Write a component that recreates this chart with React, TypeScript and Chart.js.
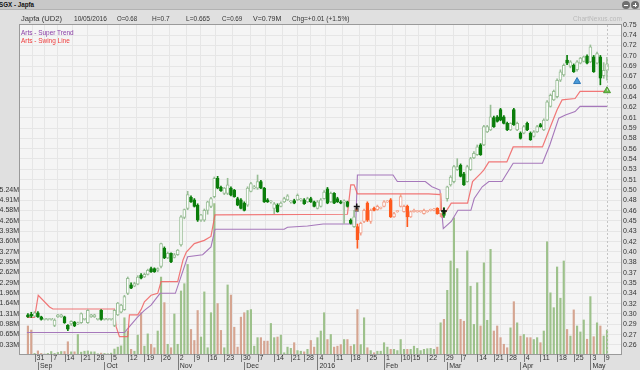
import React, { useEffect, useRef } from "react";
import { Chart, registerables } from "chart.js";
Chart.register(...registerables);

// ---- daily data (index 0 = 27 Aug 2015 ... index 174 = 10 May 2016) ----
const opens = [
  0.306,0.307,0.304,0.309,0.303,0.299,0.299,0.299,0.290,0.303,
  0.303,0.303,0.290,0.292,0.295,0.292,0.294,0.299,0.294,0.303,
  0.303,0.299,0.313,0.299,0.299,0.299,0.290,0.306,0.310,0.314,
  0.339,0.352,0.350,0.353,0.367,0.364,0.368,0.377,0.377,0.374,
  0.380,0.408,0.393,0.400,0.394,0.398,0.413,0.455,0.469,0.486,
  0.482,0.474,0.451,0.451,0.466,0.472,0.487,0.515,0.501,0.492,
  0.492,0.500,0.497,0.484,0.482,0.477,0.474,0.495,0.500,0.500,
  0.510,0.500,0.482,0.479,0.469,0.474,0.472,0.479,0.482,0.479,
  0.481,0.482,0.482,0.482,0.479,0.484,0.479,0.469,0.472,0.484,
  0.499,0.479,0.492,0.484,0.479,0.479,0.479,0.451,0.441,0.441,
  0.431,0.449,0.477,0.449,0.469,0.467,0.469,0.472,0.479,0.482,
  0.456,0.464,0.472,0.464,0.472,0.456,0.464,0.464,0.464,0.461,
  0.464,0.466,0.466,0.469,0.461,0.466,0.484,0.505,0.510,0.528,
  0.535,0.522,0.510,0.528,0.546,0.551,0.566,0.566,0.586,0.589,
  0.608,0.609,0.620,0.609,0.599,0.589,0.620,0.589,0.584,0.584,
  0.599,0.584,0.579,0.586,0.597,0.589,0.604,0.625,0.635,0.640,
  0.665,0.673,0.696,0.686,0.688,0.681,0.691,0.694,0.702,0.693,
  0.701,0.691,0.701,0.672,0.680
];
const highs = [
  0.308,0.310,0.311,0.311,0.304,0.300,0.300,0.300,0.300,0.307,
  0.307,0.304,0.291,0.297,0.296,0.295,0.309,0.300,0.314,0.307,
  0.307,0.300,0.314,0.300,0.300,0.300,0.314,0.325,0.322,0.336,
  0.364,0.355,0.356,0.366,0.369,0.370,0.376,0.379,0.378,0.378,
  0.416,0.410,0.402,0.401,0.400,0.406,0.458,0.468,0.495,0.488,
  0.484,0.476,0.460,0.468,0.480,0.486,0.517,0.518,0.503,0.501,
  0.515,0.502,0.498,0.486,0.484,0.479,0.502,0.509,0.504,0.520,
  0.512,0.501,0.484,0.481,0.478,0.476,0.479,0.486,0.490,0.481,
  0.483,0.491,0.484,0.484,0.486,0.486,0.480,0.481,0.484,0.496,
  0.501,0.494,0.493,0.486,0.481,0.482,0.480,0.453,0.466,0.445,
  0.448,0.468,0.479,0.468,0.471,0.474,0.471,0.481,0.481,0.484,
  0.463,0.466,0.492,0.474,0.474,0.465,0.468,0.466,0.466,0.468,
  0.466,0.468,0.469,0.470,0.492,0.470,0.503,0.519,0.535,0.545,
  0.537,0.524,0.535,0.547,0.556,0.566,0.568,0.596,0.596,0.627,
  0.610,0.611,0.622,0.611,0.601,0.600,0.622,0.601,0.586,0.596,
  0.601,0.586,0.588,0.596,0.599,0.606,0.634,0.644,0.650,0.667,
  0.681,0.690,0.703,0.695,0.690,0.695,0.700,0.702,0.704,0.719,
  0.703,0.708,0.703,0.692,0.700
];
const lows = [
  0.302,0.302,0.303,0.302,0.298,0.298,0.298,0.298,0.288,0.302,
  0.302,0.293,0.282,0.290,0.288,0.291,0.293,0.298,0.293,0.302,
  0.302,0.298,0.298,0.298,0.298,0.298,0.288,0.305,0.309,0.313,
  0.337,0.346,0.349,0.352,0.361,0.363,0.367,0.371,0.371,0.372,
  0.378,0.392,0.392,0.386,0.393,0.397,0.411,0.453,0.467,0.478,
  0.471,0.449,0.449,0.449,0.460,0.470,0.485,0.499,0.495,0.490,
  0.490,0.488,0.486,0.473,0.468,0.465,0.472,0.494,0.499,0.498,
  0.499,0.478,0.478,0.477,0.461,0.463,0.471,0.478,0.481,0.477,
  0.476,0.481,0.480,0.475,0.478,0.478,0.471,0.468,0.471,0.483,
  0.476,0.478,0.476,0.478,0.476,0.446,0.471,0.445,0.440,0.408,
  0.428,0.447,0.449,0.446,0.465,0.466,0.468,0.471,0.478,0.455,
  0.455,0.463,0.471,0.463,0.441,0.455,0.463,0.463,0.463,0.460,
  0.463,0.465,0.465,0.460,0.456,0.455,0.480,0.503,0.508,0.527,
  0.517,0.504,0.509,0.527,0.545,0.550,0.550,0.565,0.585,0.588,
  0.593,0.601,0.603,0.598,0.588,0.588,0.596,0.588,0.575,0.583,
  0.588,0.573,0.578,0.585,0.593,0.588,0.603,0.624,0.634,0.638,
  0.663,0.671,0.689,0.684,0.677,0.679,0.690,0.693,0.690,0.692,
  0.677,0.690,0.658,0.668,0.665
];
const closes = [
  0.303,0.304,0.309,0.303,0.299,0.299,0.299,0.299,0.298,0.306,
  0.306,0.294,0.284,0.296,0.289,0.294,0.308,0.299,0.313,0.306,
  0.306,0.299,0.299,0.299,0.299,0.299,0.313,0.324,0.321,0.334,
  0.362,0.347,0.354,0.364,0.362,0.368,0.374,0.372,0.372,0.377,
  0.415,0.393,0.400,0.387,0.398,0.405,0.456,0.467,0.490,0.479,
  0.472,0.451,0.459,0.466,0.479,0.484,0.515,0.500,0.496,0.500,
  0.505,0.489,0.487,0.474,0.469,0.466,0.500,0.507,0.502,0.510,
  0.500,0.479,0.479,0.479,0.476,0.464,0.477,0.484,0.488,0.479,
  0.477,0.489,0.482,0.476,0.484,0.479,0.472,0.479,0.482,0.494,
  0.477,0.492,0.477,0.479,0.477,0.479,0.472,0.446,0.456,0.421,
  0.446,0.466,0.451,0.466,0.466,0.472,0.469,0.479,0.479,0.456,
  0.461,0.464,0.487,0.472,0.456,0.464,0.466,0.464,0.464,0.466,
  0.464,0.466,0.468,0.461,0.466,0.458,0.502,0.517,0.533,0.533,
  0.518,0.505,0.533,0.545,0.553,0.563,0.551,0.594,0.594,0.609,
  0.594,0.602,0.604,0.599,0.589,0.599,0.597,0.599,0.576,0.594,
  0.589,0.574,0.586,0.594,0.594,0.604,0.632,0.642,0.648,0.665,
  0.678,0.688,0.691,0.693,0.678,0.693,0.699,0.701,0.691,0.716,
  0.678,0.706,0.668,0.680,0.690
];
const volumes = [
  0.92,0.79,0.05,0.13,0.05,0.03,0.05,0.11,0.05,0.08,
  0.11,0.11,0.42,0.10,0.10,0.65,0.09,0.12,0.13,0.10,
  0.10,0.04,0.06,0.05,0.04,0.06,0.19,0.25,0.29,1.18,
  0.76,0.18,0.12,0.63,1.34,0.28,0.67,0.34,0.23,0.76,
  2.47,1.66,0.34,0.23,1.30,0.34,2.03,2.26,2.87,0.81,
  0.46,1.41,0.57,2.00,0.23,1.34,4.80,1.63,0.78,0.23,
  2.22,1.90,0.88,0.25,1.20,1.34,1.41,1.44,0.28,0.55,
  0.55,0.44,0.44,1.00,0.55,0.57,0.63,0.07,0.25,0.21,
  0.39,0.14,0.12,0.10,0.18,0.46,0.25,0.55,0.76,1.34,
  0.49,0.65,0.25,0.28,0.33,0.49,0.49,0.28,0.33,1.44,
  0.33,1.18,0.23,0.14,0.07,0.12,0.12,0.39,0.25,0.18,
  0.18,0.14,0.49,0.18,0.18,0.18,0.28,0.21,0.14,0.18,
  0.20,0.21,0.18,0.25,1.02,1.13,2.05,2.98,4.35,2.74,
  1.13,1.07,3.30,2.18,0.97,2.29,0.92,2.92,1.10,3.35,
  0.76,0.92,0.55,0.34,0.23,0.86,1.69,1.02,0.60,0.65,
  0.55,0.55,0.49,0.55,0.39,0.76,3.59,1.97,1.50,2.79,
  1.80,2.98,0.81,0.60,1.43,0.92,0.73,1.11,0.50,1.85,
  0.58,1.02,0.92,0.60,0.79
];
// bearish Super Trend regime (day indices)
const bearRange = [99, 124];

// Super Trend & Swing Line, read at their turning points (day index, price)
const superX = [-0.3,29,30.5,33,35,37,39.7,44.3,48,52.5,55,56.2,77,78,84,88.7,98.5,99,109.7,111,119.4,121.4,123.8,124.8,127.2,129.2,133.1,134.1,136.5,138.5,142.4,145.8,154.6,156.8,159.5,161.5,164.4,165.9,174];
const superY = [0.279,0.279,0.288,0.303,0.313,0.321,0.339,0.339,0.395,0.398,0.410,0.437,0.437,0.440,0.442,0.445,0.445,0.520,0.520,0.510,0.510,0.502,0.497,0.438,0.449,0.466,0.466,0.484,0.502,0.510,0.510,0.538,0.538,0.566,0.607,0.612,0.617,0.625,0.625];
const swingX = [-0.3,2,3.1,6.5,7.5,26,26.5,27.5,30,30.5,33,34,35,37,39,40,45,46.6,47.6,50,53,55,56.2,96,97,98,99,120.4,124,124.4,125,127.2,132.1,133.6,136,137,138.5,143.9,145.8,154.6,156.6,159,160.5,164.4,165.9,174];
const swingY = [0.302,0.302,0.336,0.318,0.315,0.315,0.288,0.2727,0.2727,0.306,0.306,0.314,0.326,0.336,0.339,0.357,0.357,0.390,0.402,0.415,0.420,0.426,0.459,0.460,0.505,0.505,0.491,0.491,0.490,0.456,0.459,0.477,0.477,0.510,0.522,0.528,0.540,0.540,0.563,0.563,0.589,0.620,0.635,0.637,0.648,0.648];

// signal markers
const crossMarks = [{ x: 98.8, y: 0.472 }, { x: 125, y: 0.465 }];
const boxMarks = [{ x: 98.8, y: 0.467 }];
const bellMarks = [{ x: 165, y: 0.663 }];
const arrowMarks = [{ x: 174, y: 0.649 }];

// axis tick labels
const weekTickIdx = [2,7,11,16,20,25,30,35,40,45,50,54,59,64,69,74,79,83,87,92,97,102,107,112,115,120,125,130,135,140,144,149,154,159,164,169,173];
const weekTickLabels = ["31","7","14","21","28","5","12","19","26","2","9","16","23","30","7","14","21","28","4","11","18","25","1","10","15","22","29","7","14","21","28","4","11","18","25","3","9"];
const monthTickIdx = [3,23,45,65,87,107,126,148,169];
const monthTickLabels = ["Sep","Oct","Nov","Dec","2016","Feb","Mar","Apr","May"];
const priceLabels = ["0.75","0.74","0.72","0.70","0.69","0.67","0.66","0.64","0.62","0.61","0.59","0.58","0.56","0.54","0.53","0.51","0.50","0.48","0.46","0.45","0.43","0.42","0.40","0.38","0.37","0.35","0.34","0.32","0.30","0.29","0.27","0.26"];
const volLabels = ["0.33M","0.65M","0.98M","1.31M","1.64M","1.96M","2.29M","2.62M","2.95M","3.27M","3.60M","3.93M","4.26M","4.58M","4.91M","5.24M"];
const priceTop = 0.75;
const priceStep = 0.015806;
const volStep = 0.32745;

const FONT = '"Liberation Sans", Arial, sans-serif';

export default function App() {
  const ref = useRef<HTMLCanvasElement>(null);

  useEffect(() => {
    const canvas = ref.current;
    if (!canvas) return;
    const days = closes.map((_, j) => j);
    const isUp = (j: number) => closes[j] >= opens[j];
    const isBear = (j: number) => j >= bearRange[0] && j <= bearRange[1];
    const bodyFill = days.map((j) => (isUp(j) ? "#ffffff" : isBear(j) ? "#ff5a1e" : "#0b7e0b"));
    const edge = days.map((j) =>
      isUp(j) ? (isBear(j) ? "#f2a08a" : "#98bd95") : isBear(j) ? "#ff5a1e" : "#0b7e0b"
    );
    const volColor = days.map((j) => (isUp(j) ? "#9dc18b" : "#d5a591"));

    const framePlugin = {
      id: "frame",
      beforeDraw(c: any) {
        const { ctx, chartArea: a } = c;
        ctx.save();
        ctx.fillStyle = "#e0e0e0";
        ctx.fillRect(0, 0, c.width, c.height);
        ctx.fillStyle = "#f5f5f5";
        ctx.fillRect(a.left, a.top, a.right - a.left, a.bottom - a.top);
        ctx.restore();
      },
      afterDraw(c: any) {
        const { ctx, chartArea: a } = c;
        const xs = c.scales.x;
        ctx.save();
        const lx = Math.round(xs.getPixelForValue(closes.length - 1)) + 0.5;
        ctx.strokeStyle = "#c4c4c4";
        ctx.setLineDash([2, 2]);
        ctx.beginPath();
        ctx.moveTo(lx, a.top);
        ctx.lineTo(lx, a.bottom);
        ctx.stroke();
        ctx.setLineDash([]);
        ctx.strokeStyle = "#9a9a9a";
        ctx.lineWidth = 1;
        ctx.strokeRect(Math.round(a.left) - 0.5, Math.round(a.top) - 0.5, Math.round(a.right - a.left) + 1, Math.round(a.bottom - a.top) + 1);
        ctx.strokeStyle = "#7a7a7a";
        weekTickIdx.forEach((v) => {
          const px = Math.round(xs.getPixelForValue(v)) + 0.5;
          ctx.beginPath();
          ctx.moveTo(px, a.bottom);
          ctx.lineTo(px, a.bottom + 8);
          ctx.stroke();
        });
        monthTickIdx.forEach((v) => {
          const px = Math.round(xs.getPixelForValue(v)) + 0.5;
          ctx.beginPath();
          ctx.moveTo(px, a.bottom + 8);
          ctx.lineTo(px, a.bottom + 16);
          ctx.stroke();
        });
        ctx.restore();
      },
    };

    const chart = new Chart(canvas, {
      type: "bar",
      data: {
        datasets: [
          {
            type: "bar",
            label: "Volume",
            yAxisID: "yVol",
            data: days.map((j) => ({ x: j, y: volumes[j] })),
            backgroundColor: volColor,
            barThickness: 1.5,
            grouped: false,
            order: 10,
          } as any,
          {
            type: "line",
            label: "Arts - Super Trend",
            yAxisID: "yPrice",
            data: superX.map((x, k) => ({ x, y: superY[k] })),
            borderColor: "#a678bb",
            borderWidth: 1.1,
            pointRadius: 0,
            tension: 0,
            order: 6,
          },
          {
            type: "line",
            label: "Arts - Swing Line",
            yAxisID: "yPrice",
            data: swingX.map((x, k) => ({ x, y: swingY[k] })),
            borderColor: "rgba(240,96,96,0.85)",
            borderWidth: 1.2,
            pointRadius: 0,
            tension: 0,
            order: 5,
          },
          {
            type: "bar",
            label: "wick",
            yAxisID: "yPrice",
            data: days.map((j) => ({ x: j, y: [lows[j], highs[j]] })),
            backgroundColor: edge,
            barThickness: 1,
            grouped: false,
            order: 3,
          } as any,
          {
            type: "bar",
            label: "body",
            yAxisID: "yPrice",
            data: days.map((j) => ({ x: j, y: [opens[j], closes[j]] })),
            backgroundColor: bodyFill,
            borderColor: edge,
            borderWidth: 1,
            borderSkipped: false,
            barThickness: 3,
            minBarLength: 1,
            grouped: false,
            order: 2,
          } as any,
          {
            type: "scatter",
            label: "cross",
            yAxisID: "yPrice",
            data: crossMarks,
            pointStyle: "cross",
            pointRadius: 3,
            borderColor: "#111111",
            borderWidth: 1.5,
            order: 0,
          } as any,
          {
            type: "scatter",
            label: "box",
            yAxisID: "yPrice",
            data: boxMarks,
            pointStyle: "rect",
            pointRadius: 2.5,
            backgroundColor: "#b5603c",
            borderColor: "#8a8a8a",
            borderWidth: 1,
            order: 1,
          } as any,
          {
            type: "scatter",
            label: "bell",
            yAxisID: "yPrice",
            data: bellMarks,
            pointStyle: "triangle",
            pointRadius: 4,
            backgroundColor: "#4a9ad8",
            borderColor: "#2f78b8",
            borderWidth: 1,
            order: 0,
          } as any,
          {
            type: "scatter",
            label: "arrow",
            yAxisID: "yPrice",
            data: arrowMarks,
            pointStyle: "triangle",
            pointRadius: 4,
            backgroundColor: "#6cbf4a",
            borderColor: "#4f9a35",
            borderWidth: 1,
            order: 0,
          } as any,
        ],
      },
      options: {
        responsive: false,
        animation: false,
        devicePixelRatio: 1,
        events: [],
        layout: { padding: { top: 25, left: 0, right: 0, bottom: 0 } },
        plugins: { legend: { display: false }, tooltip: { enabled: false } },
        scales: {
          x: {
            type: "linear",
            min: -0.23,
            max: 176.05,
            afterFit: (s: any) => {
              s.height = 16;
            },
            afterBuildTicks: (s: any) => {
              const vals = Array.from(new Set([...weekTickIdx, ...monthTickIdx])).sort((a, b) => a - b);
              s.ticks = vals.map((v) => ({ value: v }));
            },
            ticks: {
              autoSkip: false,
              maxRotation: 0,
              minRotation: 0,
              align: "start",
              labelOffset: 2,
              padding: 0,
              color: "#333333",
              font: { family: FONT, size: 7, lineHeight: 1.15 },
              callback: (value: any) => {
                const w = weekTickIdx.indexOf(value);
                const m = monthTickIdx.indexOf(value);
                return [w >= 0 ? weekTickLabels[w] : "", m >= 0 ? monthTickLabels[m] : ""];
              },
            },
            grid: {
              drawTicks: false,
              color: (ctx: any) =>
                ctx.tick && weekTickIdx.indexOf(ctx.tick.value) >= 0 ? "#e6e6e6" : "rgba(0,0,0,0)",
            },
            border: { display: false },
          } as any,
          yPrice: {
            type: "linear",
            position: "right",
            min: 0.24614,
            max: 0.74954,
            afterFit: (s: any) => {
              s.width = 19;
            },
            afterBuildTicks: (s: any) => {
              s.ticks = priceLabels.map((_, k) => ({ value: priceTop - k * priceStep }));
            },
            ticks: {
              autoSkip: false,
              padding: 2,
              color: "#333333",
              font: { family: FONT, size: 7 },
              callback: (_v: any, i: number) => priceLabels[i],
            },
            grid: { drawTicks: false, color: "#e6e6e6" },
            border: { display: false },
          } as any,
          yVol: {
            type: "linear",
            position: "left",
            min: 0.0317,
            max: 10.46,
            afterFit: (s: any) => {
              s.width = 20;
            },
            afterBuildTicks: (s: any) => {
              s.ticks = volLabels.map((_, k) => ({ value: (k + 1) * volStep }));
            },
            ticks: {
              autoSkip: false,
              padding: 1,
              color: "#333333",
              font: { family: FONT, size: 7 },
              callback: (_v: any, i: number) => volLabels[i],
            },
            grid: { display: false, drawTicks: false },
            border: { display: false },
          } as any,
        },
      },
      plugins: [framePlugin],
    } as any);
    return () => chart.destroy();
  }, []);

  const txt = (left: number, top: number, s: string, extra: any = {}) => (
    <div
      style={{
        position: "absolute",
        left,
        top,
        fontFamily: FONT,
        fontSize: 8,
        lineHeight: "8px",
        color: "#333",
        whiteSpace: "nowrap",
        transform: "scaleX(0.82)",
        transformOrigin: "0 0",
        ...extra,
      }}
    >
      {s}
    </div>
  );

  return (
    <div style={{ position: "fixed", left: 0, top: 0, width: 640, height: 370, overflow: "hidden" }}>
      <canvas ref={ref} width={640} height={370} style={{ display: "block", width: 640, height: 370 }} />
      <div
        style={{
          position: "absolute",
          left: 0,
          top: 0,
          width: 640,
          height: 9,
          background: "#c8c8c8",
          borderBottom: "1px solid #b2b2b2",
        }}
      />
      {txt(-1, 1, "SGX - Japfa", { fontWeight: "bold", color: "#111", transform: "scaleX(0.78)" })}
      <div style={{ position: "absolute", left: 622, top: 1, width: 8, height: 8, borderRadius: 4, background: "#6f6f6f" }}>
        <div style={{ position: "absolute", left: 2, top: 3.5, width: 4, height: 1, background: "#fff" }} />
      </div>
      <div style={{ position: "absolute", left: 631, top: 1, width: 8, height: 8, borderRadius: 4, background: "#6f6f6f" }}>
        <div style={{ position: "absolute", left: 2, top: 3.5, width: 4, height: 1, background: "#fff" }} />
        <div style={{ position: "absolute", left: 3.5, top: 2, width: 1, height: 4, background: "#fff" }} />
      </div>
      {txt(21, 14.5, "Japfa (UD2)", { transform: "scaleX(0.95)" })}
      {txt(74, 14.5, "10/05/2016")}
      {txt(117, 14.5, "O=0.68", { transform: "scaleX(0.76)" })}
      {txt(152, 14.5, "H=0.7")}
      {txt(186, 14.5, "L=0.665")}
      {txt(222, 14.5, "C=0.69", { transform: "scaleX(0.78)" })}
      {txt(253, 14.5, "V=0.79M", { transform: "scaleX(0.88)" })}
      {txt(292, 14.5, "Chg=+0.01 (+1.5%)")}
      {txt(573, 15, "ChartNexus.com", { color: "#b9b9b9" })}
      {txt(21, 28.5, "Arts - Super Trend", { color: "#8a3ea6", fontSize: 7.5, transform: "scaleX(0.86)" })}
      {txt(21, 37, "Arts - Swing Line", { color: "#ee3a3a", fontSize: 7.5, transform: "scaleX(0.86)" })}
    </div>
  );
}
